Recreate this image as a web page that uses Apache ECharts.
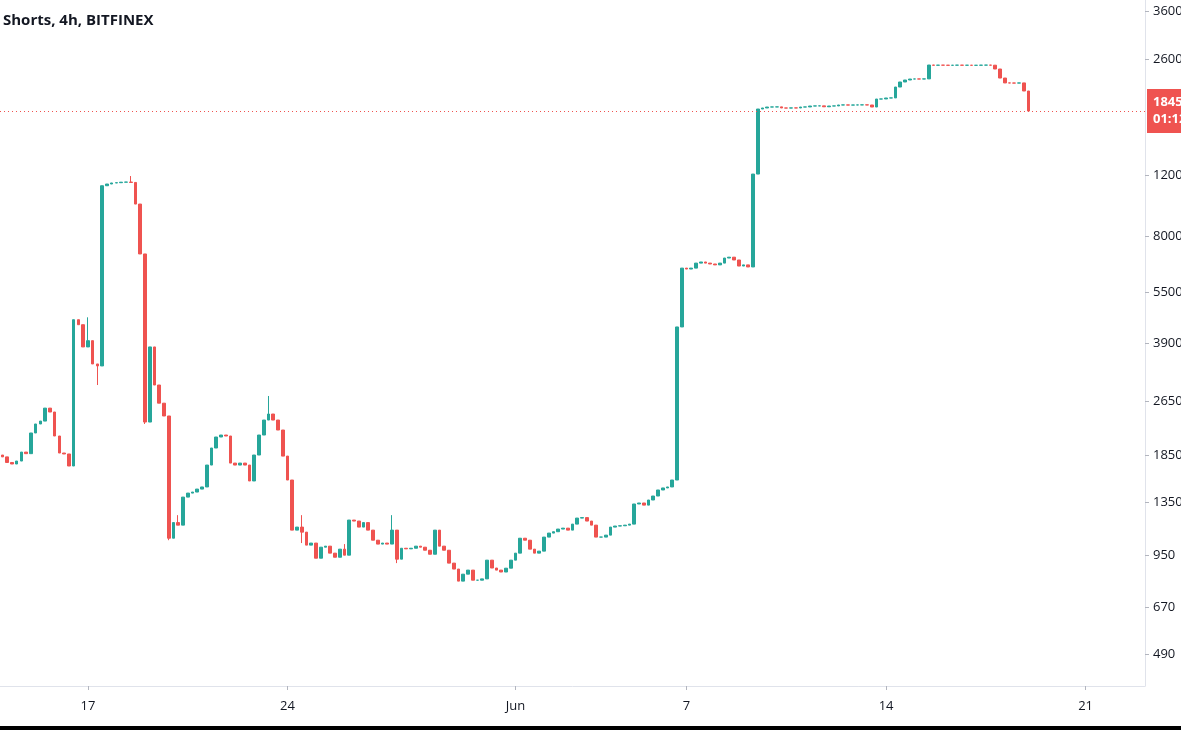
<!DOCTYPE html>
<html><head><meta charset="utf-8">
<script src="https://cdn.jsdelivr.net/npm/echarts@6/dist/echarts.min.js"></script>
<style>html,body{margin:0;padding:0;background:#fff}#c{width:1181px;height:730px}</style>
</head><body><div id="c"></div>
<script>
const titleText = 'Shorts, 4h, BITFINEX';
const firstOpen = 1853;
const closes = [
 1830,1763,1745,1780,1890,1870,2147,2280,2325,2535,2470,2104,1878,1866,1722,4576,4426,3815,3978,3405,3360,
 11200,11330,11410,11430,11470,11480,11450,9910,7100,2310,3815,2958,2620,2405,1063,
 1180,1160,1399,1437,1447,1476,1497,1733,1942,2090,2118,2104,1756,1733,1756,1733,1558,1853,2118,2341,2437,2341,2190,1840,1568,
 1122,1145,1107,1015,1029,930,1001,1008,962,936,988,949,1200,1192,1145,1180,
 1122,1049,1022,1029,1022,1122,924,994,990,994,1008,1001,981,955,1122,1008,981,900,865,798,836,859,803,803,810,918,871,859,848,870,918,
 962,1063,1049,988,962,975,1071,1100,1110,1130,1137,1122,1168,1216,1220,1192,1160,1071,1071,1085,1145,1153,1155,1160,1168,
 1336,1345,1326,1372,1409,1467,1487,1497,1568,4360,6460,
 6420,6460,6680,6730,6680,6640,6600,6680,6910,6950,6820,6550,6600,6510,12110,
 18700,18830,18950,18960,18970,18830,18820,18840,18830,18950,18960,19080,19090,19100,18980,19080,19090,19210,19220,19200,19210,19220,19230,19210,18950,
 19990,20000,20130,20140,21660,22400,22700,22850,22860,22850,22870,
 25090,25050,25070,25060,25040,25060,25070,25050,25060,25040,25050,25070,25080,25060,24430,23000,22260,22250,22240,22260,21090,18450
];
const wickHigh = [[18,4650],[27,11950],[30,4902],[37,1240],[56,2749],[63,1240],[72,1022],[82,1240]];
const wickLow = [[20,2958],[30,2280],[35,1049],[63,1029],[83,900]];
const yTicks = [36000,26000,12000,8000,5500,3900,2650,1850,1350,950,670,490];
const dateLabels = [[18,'17'],[60,'24'],[108,'Jun'],[144,'7'],[186,'14'],[228,'21']];
const lastPriceLabel = '18450.00\n01:12:35';
const totalSlots = 241;

const cats = [];
for (let i = 0; i < totalSlots; i++) cats.push('s' + i);
const labelMap = {};
dateLabels.forEach(d => labelMap[d[0]] = d[1]);
const hiMap = {}, loMap = {};
wickHigh.forEach(w => hiMap[w[0]] = w[1]);
wickLow.forEach(w => loMap[w[0]] = w[1]);
const ohlc = [];
let prev = firstOpen;
closes.forEach((c, i) => {
  const o = prev;
  const hi = Math.max(o, c, hiMap[i] || 0);
  const lo = Math.min(o, c, loMap[i] || Infinity);
  ohlc.push([o, c, lo, hi]);
  prev = c;
});
const last = closes[closes.length - 1];

const chart = echarts.init(document.getElementById('c'));
chart.setOption({
  animation: false,
  backgroundColor: '#ffffff',
  title: { text: titleText, left: -2, top: 8, textStyle: { fontFamily: 'Open Sans', fontSize: 15, fontWeight: 'bold', color: '#131722' } },
  grid: { left: 0, right: 36, top: 0, bottom: 44, containLabel: false, outerBoundsMode: 'none' },
  xAxis: {
    type: 'category', data: cats, boundaryGap: true,
    axisLine: { lineStyle: { color: '#e0e3eb' } },
    axisTick: { show: true, alignWithLabel: true, length: 4, interval: i => labelMap[i] !== undefined, lineStyle: { color: '#b2b5be' } },
    axisLabel: { interval: i => labelMap[i] !== undefined, formatter: (v, i) => labelMap[i] || '', color: '#131722', fontFamily: 'Open Sans', fontSize: 13, margin: 14 },
    splitLine: { show: false }
  },
  yAxis: {
    type: 'log', logBase: 10, position: 'right', min: 396, max: 38740,
    axisLine: { show: true, lineStyle: { color: '#e0e3eb' } },
    axisTick: { show: true, length: 4, customValues: yTicks, lineStyle: { color: '#b2b5be' } },
    axisLabel: { customValues: yTicks, color: '#131722', fontFamily: 'Open Sans', fontSize: 13, margin: 8, formatter: v => String(Math.round(v)) },
    splitLine: { show: false }
  },
  series: [{
    type: 'candlestick', data: ohlc, barWidth: 3.2,
    itemStyle: { color: '#26a69a', color0: '#ef5350', borderColor: '#26a69a', borderColor0: '#ef5350', borderWidth: 1 },
    markLine: {
      symbol: 'none', silent: true,
      data: [{ yAxis: last }],
      lineStyle: { color: '#ef5350', type: [1, 3], width: 1 },
      label: { position: 'end', formatter: lastPriceLabel, backgroundColor: '#ef5350', color: '#fff', fontFamily: 'Open Sans', fontWeight: 'bold', fontSize: 13, lineHeight: 17, padding: [5, 8, 5, 6], distance: 2 }
    }
  }],
  graphic: [{ type: 'rect', shape: { x: 0, y: 726, width: 1181, height: 4 }, style: { fill: '#000' } }]
});
</script></body></html>
